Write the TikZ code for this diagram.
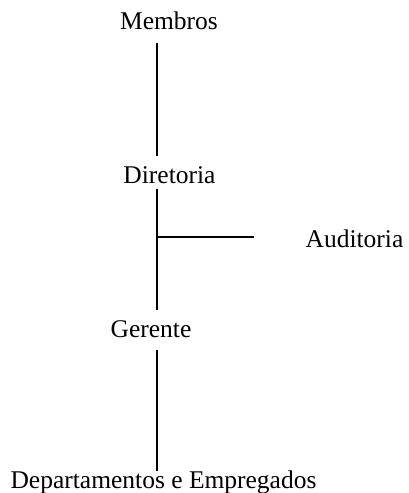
\documentclass[tikz,border=0pt]{standalone}
\usepackage{fontspec}
\setmainfont{Liberation Serif}
\begin{document}
\begin{tikzpicture}[x=1pt,y=-1pt,
  lbl/.style={inner sep=0pt,anchor=base,font=\fontsize{25.5}{28}\selectfont},
  link/.style={line width=1.7pt}]
\useasboundingbox (0,0) rectangle (408,493);
% spine of the chart
\coordinate (sp) at (157,0);
\node[lbl] (mem) at (169,29.5) {Membros};
\node[lbl] (dir) at (169.5,183.5) {Diretoria};
\node[lbl] (aud) at (354.5,247.5) {Auditoria};
\node[lbl] (ger) at (151,337.5) {Gerente};
\node[lbl] (dep) at (163.5,488.5) {Departamentos e Empregados};
% branch point towards the audit
\coordinate (br) at (157,237);
\draw[link,shorten <=13.5pt,shorten >=10.6pt] (mem.south -| sp) -- (dir.north -| sp);
\draw[link,shorten <=5.5pt,shorten >=10pt] (dir.south -| sp) -- (ger.north -| sp);
\draw[link,shorten <=12.5pt,shorten >=0pt] (ger.south -| sp) -- (dep.north -| sp);
\draw[link,line width=1.5pt,shorten >=51pt] (br) -- (aud.west |- br);
\end{tikzpicture}
\end{document}
